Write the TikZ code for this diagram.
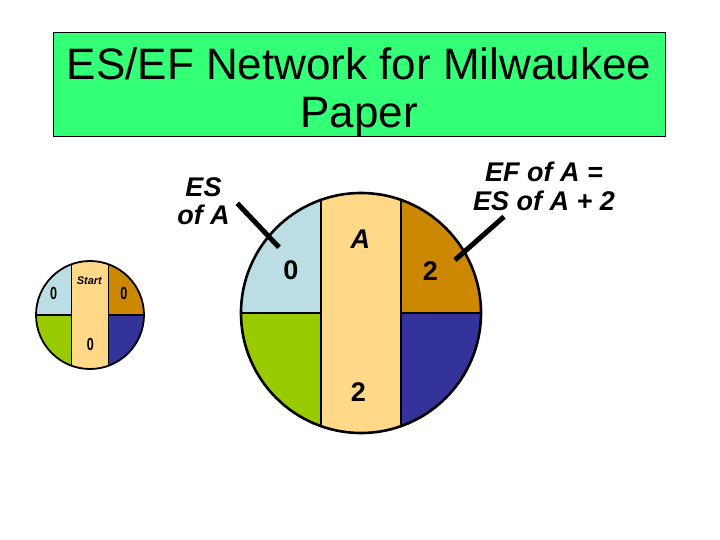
\documentclass[tikz,border=0pt]{standalone}
\usepackage{fontspec}
\setmainfont{Liberation Sans}
\usetikzlibrary{positioning}

\definecolor{titlegreen}{RGB}{51,255,119}
\definecolor{esblue}{RGB}{186,222,228}
\definecolor{bandpeach}{RGB}{255,217,136}
\definecolor{efochre}{RGB}{204,136,0}
\definecolor{lslime}{RGB}{153,204,0}
\definecolor{lfnavy}{RGB}{51,51,153}

\newcommand{\narrow}[1]{\scalebox{.72}[1]{#1}}

\begin{document}
\begin{tikzpicture}[
    x=1pt, y=-1pt,
    titlebox/.style={rectangle, draw, fill=titlegreen, minimum width=612pt, minimum height=104pt, inner sep=0pt, line width=0.8pt},
    titletext/.style={align=center, inner sep=0pt, font=\fontsize{44}{48}\selectfont},
    note/.style={align=center, inner sep=0pt, font=\fontsize{27}{28.5}\selectfont\bfseries\itshape},
    num/.style={anchor=base, inner sep=0pt, font=\fontsize{27}{27}\selectfont\bfseries},
    smallnum/.style={anchor=base, inner sep=0pt, font=\fontsize{17.5}{17.5}\selectfont\bfseries},
    pointer/.style={line width=5pt}
  ]
    \useasboundingbox (0,0) rectangle (720,540);

    % Title
    \node[titlebox] (title) at (359,84) {};
    \node[titletext] (titletext) at ([yshift=-8.5pt]title.center) {ES/EF Network for Milwaukee\\Paper};

    % Activity circles: name/centre x/centre y/radius/half band/line width
    \foreach \act/\cx/\cy/\r/\w/\lw in {start/90/315/54/18.5/1.8, bigA/361/313/120/40/2.6} {
      \coordinate (\act) at (\cx,\cy);
      \begin{scope}
        \clip (\act) circle (\r);
        \fill[esblue] ({\cx-\r},{\cy-\r}) rectangle ({\cx-\w},\cy);
        \fill[lslime] ({\cx-\r},\cy) rectangle ({\cx-\w},{\cy+\r});
        \fill[bandpeach] ({\cx-\w},{\cy-\r}) rectangle ({\cx+\w},{\cy+\r});
        \fill[efochre] ({\cx+\w},{\cy-\r}) rectangle ({\cx+\r},\cy);
        \fill[lfnavy] ({\cx+\w},\cy) rectangle ({\cx+\r},{\cy+\r});
        \draw[line width=0.8*\lw] ({\cx-\w},{\cy-\r}) -- ({\cx-\w},{\cy+\r});
        \draw[line width=0.8*\lw] ({\cx+\w},{\cy-\r}) -- ({\cx+\w},{\cy+\r});
        \draw[line width=0.8*\lw] ({\cx-\r},\cy) -- ({\cx-\w},\cy);
        \draw[line width=0.8*\lw] ({\cx+\w},\cy) -- ({\cx+\r},\cy);
      \end{scope}
      \draw[line width=\lw] (\act) circle (\r);
    }

    % Start values
    \node[anchor=base, inner sep=0pt, font=\fontsize{11}{11}\selectfont\bfseries\itshape] (startname) at (89.3,284) {Start};
    \node[smallnum] (start-es) at (53.7,299.3) {\narrow{0}};
    \node[smallnum] (start-ef) at (124,299.3) {\narrow{0}};
    \node[smallnum] (start-dur) at (90.3,350) {\narrow{0}};

    % Activity A values
    \node[num] (actname) at (360.3,248) {\itshape A};
    \node[num] (a-es) at (290.8,279) {0};
    \node[num] (a-ef) at (430.5,280) {2};
    \node[num] (a-dur) at (358.3,401.7) {2};

    % Notes
    \node[note] (esnote) at (203.5,201) {ES\\of A};
    \node[note] (efnote) at (544,186.5) {EF of A =\\ES of A + 2};

    % Pointers
    \coordinate (esFrom) at (237.3,203.3);
    \coordinate (esTo) at (279,247.3);
    \coordinate (efFrom) at (504,216.7);
    \coordinate (efTo) at (455,260);
    \draw[pointer] (esFrom) -- (esTo);
    \draw[pointer] (efFrom) -- (efTo);

  \end{tikzpicture}
\end{document}
